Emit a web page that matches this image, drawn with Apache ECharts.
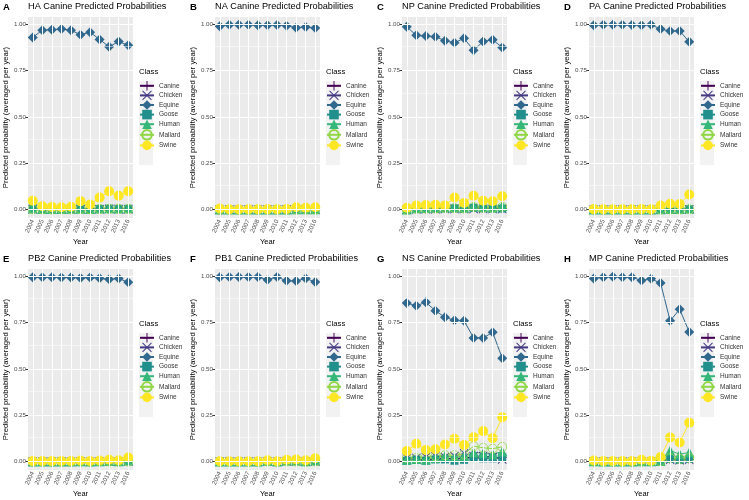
<!DOCTYPE html>
<html>
<head>
<meta charset="utf-8">
<script src="https://cdn.jsdelivr.net/npm/echarts@6/dist/echarts.min.js"></script>
<style>
html, body { margin: 0; padding: 0; background: #fff; }
#chart { width: 749px; height: 500px; }
</style>
</head>
<body>
<div id="chart"></div>
<script>
// ---------------- data ----------------
var years = ['2004', '2005', '2006', '2007', '2008', '2009', '2010', '2011', '2012', '2013', '2016'];
var classes = ['Canine', 'Chicken', 'Equine', 'Goose', 'Human', 'Mallard', 'Swine'];
var yTicks = [0, 0.25, 0.5, 0.75, 1];
var yMinor = [0.125, 0.375, 0.625, 0.875];

// rows follow the order of classes
var dataHA = [
    [0.003, 0.002, 0.002, 0.002, 0.002, 0.003, 0.003, 0.004, 0.005, 0.004, 0.004],
    [0.002, 0.001, 0.001, 0.001, 0.001, 0.002, 0.002, 0.002, 0.003, 0.002, 0.002],
    [0.930, 0.969, 0.971, 0.975, 0.969, 0.944, 0.958, 0.919, 0.879, 0.908, 0.887],
    [0.008, 0.003, 0.003, 0.003, 0.003, 0.007, 0.004, 0.004, 0.006, 0.005, 0.005],
    [0.006, 0.004, 0.004, 0.004, 0.005, 0.005, 0.004, 0.006, 0.007, 0.006, 0.007],
    [0.003, 0.002, 0.002, 0.002, 0.002, 0.003, 0.002, 0.004, 0.004, 0.004, 0.004],
    [0.048, 0.018, 0.015, 0.013, 0.016, 0.046, 0.028, 0.065, 0.099, 0.075, 0.099]
];
var dataNA = [
    [0.001, 0.000, 0.000, 0.000, 0.001, 0.001, 0.000, 0.001, 0.001, 0.001, 0.001],
    [0.001, 0.000, 0.000, 0.000, 0.000, 0.000, 0.000, 0.001, 0.001, 0.001, 0.001],
    [0.990, 0.998, 0.998, 0.998, 0.996, 0.995, 0.997, 0.993, 0.982, 0.986, 0.981],
    [0.001, 0.000, 0.000, 0.000, 0.001, 0.001, 0.000, 0.001, 0.002, 0.001, 0.002],
    [0.001, 0.001, 0.001, 0.001, 0.001, 0.001, 0.001, 0.001, 0.002, 0.002, 0.002],
    [0.000, 0.000, 0.000, 0.000, 0.000, 0.000, 0.000, 0.000, 0.001, 0.001, 0.001],
    [0.006, 0.002, 0.002, 0.002, 0.002, 0.003, 0.002, 0.004, 0.013, 0.010, 0.013]
];
var dataNP = [
    [0.001, 0.003, 0.003, 0.003, 0.008, 0.005, 0.005, 0.010, 0.006, 0.005, 0.006],
    [0.000, 0.002, 0.002, 0.002, 0.003, 0.003, 0.003, 0.004, 0.003, 0.003, 0.003],
    [0.987, 0.941, 0.937, 0.934, 0.912, 0.901, 0.925, 0.860, 0.908, 0.917, 0.876],
    [0.001, 0.008, 0.008, 0.008, 0.012, 0.008, 0.008, 0.010, 0.008, 0.008, 0.006],
    [0.001, 0.008, 0.009, 0.010, 0.012, 0.013, 0.010, 0.020, 0.014, 0.012, 0.020],
    [0.000, 0.005, 0.006, 0.006, 0.010, 0.008, 0.008, 0.015, 0.010, 0.010, 0.015],
    [0.010, 0.023, 0.025, 0.027, 0.023, 0.066, 0.036, 0.075, 0.048, 0.045, 0.072]
];
var dataPA = [
    [0.000, 0.000, 0.000, 0.000, 0.000, 0.000, 0.000, 0.001, 0.001, 0.001, 0.002],
    [0.000, 0.000, 0.000, 0.000, 0.000, 0.000, 0.000, 0.001, 0.001, 0.001, 0.001],
    [0.996, 0.998, 0.998, 0.998, 0.997, 0.996, 0.998, 0.975, 0.964, 0.965, 0.906],
    [0.001, 0.000, 0.000, 0.000, 0.001, 0.001, 0.000, 0.001, 0.001, 0.001, 0.003],
    [0.001, 0.001, 0.001, 0.001, 0.001, 0.001, 0.001, 0.002, 0.003, 0.003, 0.006],
    [0.000, 0.000, 0.000, 0.000, 0.000, 0.000, 0.000, 0.001, 0.001, 0.001, 0.002],
    [0.003, 0.002, 0.002, 0.002, 0.002, 0.003, 0.002, 0.022, 0.032, 0.030, 0.082]
];
var dataPB2 = [
    [0.000, 0.000, 0.000, 0.000, 0.000, 0.000, 0.000, 0.001, 0.001, 0.001, 0.002],
    [0.000, 0.000, 0.000, 0.000, 0.000, 0.000, 0.000, 0.000, 0.001, 0.000, 0.001],
    [0.995, 0.995, 0.995, 0.994, 0.994, 0.991, 0.994, 0.990, 0.984, 0.989, 0.968],
    [0.001, 0.001, 0.001, 0.001, 0.001, 0.001, 0.001, 0.001, 0.002, 0.001, 0.003],
    [0.001, 0.001, 0.001, 0.001, 0.001, 0.002, 0.001, 0.002, 0.003, 0.002, 0.006],
    [0.000, 0.000, 0.000, 0.000, 0.000, 0.000, 0.000, 0.000, 0.001, 0.000, 0.001],
    [0.003, 0.003, 0.003, 0.004, 0.004, 0.006, 0.004, 0.006, 0.010, 0.008, 0.022]
];
var dataPB1 = [
    [0.000, 0.000, 0.000, 0.000, 0.000, 0.001, 0.000, 0.001, 0.001, 0.000, 0.001],
    [0.000, 0.000, 0.000, 0.000, 0.000, 0.001, 0.000, 0.001, 0.001, 0.000, 0.001],
    [0.996, 0.997, 0.997, 0.997, 0.997, 0.982, 0.997, 0.976, 0.975, 0.989, 0.970],
    [0.001, 0.000, 0.000, 0.000, 0.000, 0.004, 0.000, 0.005, 0.005, 0.002, 0.004],
    [0.001, 0.001, 0.001, 0.001, 0.001, 0.005, 0.001, 0.006, 0.006, 0.002, 0.006],
    [0.000, 0.000, 0.000, 0.000, 0.000, 0.001, 0.000, 0.001, 0.001, 0.000, 0.001],
    [0.002, 0.002, 0.002, 0.002, 0.002, 0.008, 0.002, 0.010, 0.012, 0.008, 0.018]
];
var dataNS = [
    [0.015, 0.012, 0.010, 0.012, 0.018, 0.015, 0.020, 0.025, 0.020, 0.020, 0.022],
    [0.020, 0.020, 0.025, 0.030, 0.025, 0.030, 0.045, 0.030, 0.030, 0.025, 0.012],
    [0.856, 0.842, 0.860, 0.815, 0.779, 0.763, 0.761, 0.668, 0.668, 0.698, 0.558],
    [0.005, 0.010, 0.005, 0.012, 0.012, 0.005, 0.010, 0.020, 0.018, 0.018, 0.025],
    [0.010, 0.015, 0.012, 0.020, 0.030, 0.025, 0.030, 0.050, 0.045, 0.040, 0.055],
    [0.020, 0.020, 0.025, 0.030, 0.035, 0.035, 0.040, 0.084, 0.075, 0.070, 0.080],
    [0.057, 0.097, 0.063, 0.067, 0.093, 0.124, 0.090, 0.132, 0.165, 0.127, 0.240]
];
var dataMP = [
    [0.001, 0.000, 0.000, 0.000, 0.000, 0.001, 0.001, 0.002, 0.012, 0.010, 0.012],
    [0.001, 0.000, 0.000, 0.000, 0.000, 0.001, 0.001, 0.002, 0.010, 0.008, 0.010],
    [0.989, 0.996, 0.998, 0.996, 0.995, 0.978, 0.987, 0.964, 0.760, 0.823, 0.700],
    [0.002, 0.001, 0.000, 0.001, 0.001, 0.002, 0.002, 0.003, 0.015, 0.010, 0.015],
    [0.002, 0.001, 0.001, 0.001, 0.001, 0.002, 0.002, 0.004, 0.060, 0.040, 0.050],
    [0.001, 0.000, 0.000, 0.000, 0.000, 0.001, 0.001, 0.002, 0.020, 0.015, 0.020],
    [0.006, 0.003, 0.003, 0.003, 0.004, 0.010, 0.005, 0.025, 0.131, 0.103, 0.210]
];

var panels = [
    { tag: 'A', title: 'HA Canine Predicted Probabilities', rows: dataHA },
    { tag: 'B', title: 'NA Canine Predicted Probabilities', rows: dataNA },
    { tag: 'C', title: 'NP Canine Predicted Probabilities', rows: dataNP },
    { tag: 'D', title: 'PA Canine Predicted Probabilities', rows: dataPA },
    { tag: 'E', title: 'PB2 Canine Predicted Probabilities', rows: dataPB2 },
    { tag: 'F', title: 'PB1 Canine Predicted Probabilities', rows: dataPB1 },
    { tag: 'G', title: 'NS Canine Predicted Probabilities', rows: dataNS },
    { tag: 'H', title: 'MP Canine Predicted Probabilities', rows: dataMP }
];

// ---------------- style ----------------
var FONT = 'Liberation Sans, Arial, sans-serif';
var colors = ['#440154', '#443A83', '#31688E', '#21908C', '#35B779', '#8FD744', '#FDE725'];
var plusPath = 'path://M4.5,0H5.5V4.5H10V5.5H5.5V10H4.5V5.5H0V4.5H4.5Z';
var crossPath = 'path://M0,0.7L0.7,0L10,9.3L9.3,10ZM9.3,0L10,0.7L0.7,10L0,9.3Z';
var symbols = [plusPath, crossPath, 'diamond', 'rect', 'triangle', 'circle', 'circle'];
var sizes = [9, 9, 10, 8, 10, 9, 10];

var titles = [], grids = [], xAxes = [], yAxes = [], series = [], legends = [], graphics = [];

panels.forEach(function (p, i) {
    var x0 = (i % 4) * 187;
    var y0 = Math.floor(i / 4) * 252;

    titles.push({ text: p.tag, left: x0 + 3, top: y0 + 2, padding: 0,
        textStyle: { fontSize: 9.5, fontWeight: 'bold', color: '#000', fontFamily: FONT } });
    titles.push({ text: p.title, left: x0 + 28, top: y0 + 2, padding: 0,
        textStyle: { fontSize: 9.2, fontWeight: 'normal', color: '#000', fontFamily: FONT } });
    titles.push({ text: 'Class', left: x0 + 139, top: y0 + 68, padding: 0,
        textStyle: { fontSize: 7.7, fontWeight: 'normal', color: '#000', fontFamily: FONT } });

    grids.push({ left: x0 + 28, top: y0 + 17, width: 105, height: 201,
        show: true, backgroundColor: '#ebebeb', borderWidth: 0 });

    xAxes.push({
        type: 'category', gridIndex: i, data: years, boundaryGap: true,
        name: 'Year', nameLocation: 'middle', nameGap: 20,
        nameTextStyle: { fontSize: 7.5, color: '#000', fontFamily: FONT },
        axisLine: { show: false },
        axisTick: { show: true, alignWithLabel: true, length: 2.5, lineStyle: { color: '#333' } },
        axisLabel: { interval: 0, rotate: 65, fontSize: 6.2, color: '#4d4d4d', margin: 2, fontFamily: FONT },
        splitLine: { show: false }
    });
    yAxes.push({
        type: 'value', gridIndex: i, min: -0.045, max: 1.04,
        name: 'Predicted probability (averaged per year)', nameLocation: 'middle', nameGap: 17,
        nameTextStyle: { fontSize: 7.8, color: '#000', fontFamily: FONT },
        axisLine: { show: false },
        axisTick: { show: true, customValues: yTicks, length: 2.5, lineStyle: { color: '#333' } },
        axisLabel: { customValues: yTicks, fontSize: 6.2, color: '#4d4d4d', margin: 2, fontFamily: FONT,
            formatter: function (v) { return v.toFixed(2); } },
        splitLine: { show: false }
    });

    // panel grid lines (white, ggplot style)
    var lines = [];
    yMinor.forEach(function (v) { lines.push({ yAxis: v, lineStyle: { width: 0.5 } }); });
    yTicks.forEach(function (v) { lines.push({ yAxis: v, lineStyle: { width: 1 } }); });
    years.forEach(function (y) { lines.push({ xAxis: y, lineStyle: { width: 1 } }); });
    series.push({
        type: 'line', xAxisIndex: i, yAxisIndex: i, data: [], z: 1, silent: true,
        markLine: { silent: true, symbol: ['none', 'none'], label: { show: false },
            lineStyle: { color: '#ffffff', type: 'solid' }, emphasis: { disabled: true }, data: lines }
    });

    classes.forEach(function (c, k) {
        var hollow = c === 'Mallard';
        series.push({
            name: c, type: 'line', xAxisIndex: i, yAxisIndex: i, data: p.rows[k],
            symbol: symbols[k], symbolSize: sizes[k], showAllSymbol: true,
            lineStyle: { width: 1, color: colors[k] },
            itemStyle: hollow ? { color: 'rgba(0,0,0,0)', borderColor: colors[k], borderWidth: 0.8 }
                              : { color: colors[k], borderWidth: 0 },
            emphasis: { disabled: true }
        });
    });

    graphics.push({ type: 'rect', left: x0 + 139, top: y0 + 81, z: 0, silent: true,
        shape: { width: 14, height: 84 }, style: { fill: '#f2f2f2' } });

    legends.push({
        orient: 'vertical', left: x0 + 139, top: y0 + 81, padding: 0,
        itemWidth: 14, itemHeight: 12, itemGap: 0, selectedMode: false,
        data: classes,
        textStyle: { fontSize: 6.5, color: '#333', fontFamily: FONT }
    });
});

var chart = echarts.init(document.getElementById('chart'));
chart.setOption({
    animation: false,
    backgroundColor: '#ffffff',
    title: titles,
    grid: grids,
    xAxis: xAxes,
    yAxis: yAxes,
    legend: legends,
    graphic: graphics,
    series: series
});
</script>
</body>
</html>
